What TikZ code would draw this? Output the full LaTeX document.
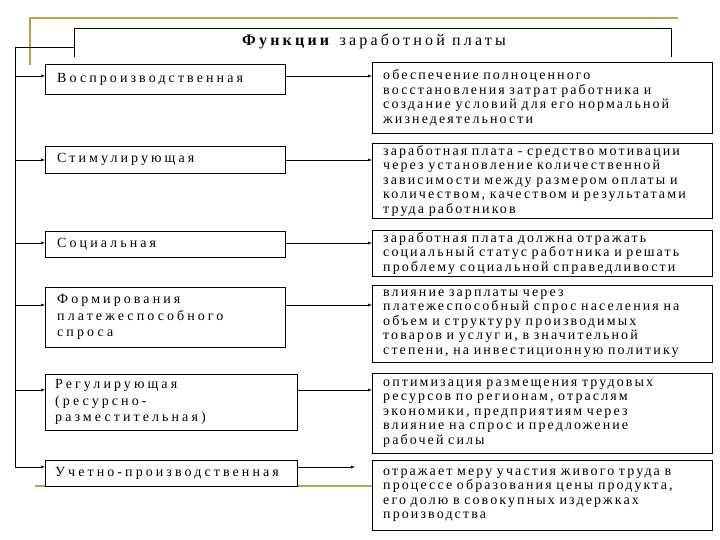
\documentclass[tikz,border=0pt]{standalone}
\usepackage{fontspec}
\setmainfont{Liberation Serif}
\newfontfamily\leftfont[LetterSpace=22]{Liberation Serif}
\newfontfamily\rightfont[LetterSpace=15]{Liberation Serif}
\newfontfamily\titlefont[LetterSpace=20]{Liberation Serif}
\usetikzlibrary{positioning}
\definecolor{slidegold}{RGB}{190,163,72}

\begin{document}
\begin{tikzpicture}[x=1pt,y=-1pt,
    kind/.style={
% The shape:
rectangle, anchor=north west,
% The size:
minimum width=240, text width=216, inner xsep=12, inner ysep=2,
% The border:
thin, draw, fill=white,
% The text:
align=left, font=\leftfont\fontsize{14}{16.5}\selectfont,
},
    role/.style={
% The shape:
rectangle, anchor=north west,
% The size:
minimum width=340, text width=318, inner xsep=11, inner ysep=2,
% The border:
thin, draw, fill=white,
% The text:
align=left, font=\rightfont\fontsize{14}{14.5}\selectfont,
},
    arr/.style={->, >=latex, thin},
    gold/.style={slidegold, line width=2.5pt},
]
  \useasboundingbox (0,0) rectangle (720,540);
  \fill[white] (0,0) rectangle (720,540);

  % slide decoration
  \draw[gold] (30,65) |- (678,18);
  \draw[gold] (35,486) -- (372,486);

  % title
  \draw (74,57) |- (671,28) -- (671,57);
  \node[font=\titlefont\fontsize{16}{18}\selectfont]
    (title) at (374,42) {\textbf{Функции} заработной платы};

  % functions
  \node[kind, minimum height=30]  (L1) at (45,64)  {Воспроизводственная};
  \node[kind, minimum height=27]  (L2) at (45,146) {Стимулирующая};
  \node[kind, minimum height=26]  (L3) at (45,231) {Социальная};
  \node[kind, minimum height=60]  (L4) at (45,287)
    {Формирования\\платежеспособного\\спроса};
  \node[kind, minimum height=56, text width=232, inner xsep=10]
    (L5) at (45,374) {Регулирующая\\(ресурсно-\\разместительная)};
  \node[kind, minimum height=26, text width=232, inner xsep=10]
    (L6) at (45,460) {Учетно-производственная};

  % descriptions
  \node[role, minimum height=71] (R1) at (372,62)
    {обеспечение полноценного\\восстановления затрат работника и\\создание условий для его нормальной\\жизнедеятельности};
  \node[role, minimum height=75] (R2) at (372,143)
    {заработная плата - средство мотивации\\через установление количественной\\зависимости между размером оплаты и\\количеством, качеством и результатами\\труда работников};
  \node[role, minimum height=45] (R3) at (372,230)
    {заработная плата должна отражать\\социальный статус работника и решать\\проблему социальной справедливости};
  \node[role, minimum height=77] (R4) at (372,285)
    {влияние зарплаты через\\платежеспособный спрос населения на\\объем и структуру производимых\\товаров и услуг и, в значительной\\степени, на инвестиционную политику};
  \node[role, minimum height=80] (R5) at (372,373)
    {оптимизация размещения трудовых\\ресурсов по регионам, отраслям\\экономики, предприятиям через\\влияние на спрос и предложение\\рабочей силы};
  \node[role, minimum height=70] (R6) at (372,460)
    {отражает меру участия живого труда в\\процессе образования цены продукта,\\его долю в совокупных издержках\\производства};

  % trunk
  \coordinate (top) at (15,47);
  \coordinate (t1) at (15,76);
  \coordinate (t2) at (15,160);
  \coordinate (t3) at (15,243);
  \coordinate (t4) at (15,305);
  \coordinate (t5) at (15,390);
  \coordinate (t6) at (15,467);
  \draw (top -| L1.west) ++(29,0) -- (top) -- (t6);

  \draw[arr] (t1) -- (t1 -| L1.west);
  \draw[arr] (t2) -- (t2 -| L2.west);
  \draw[arr] (t3) -- (t3 -| L3.west);
  \draw[arr] (t4) -- (t4 -| L4.west);
  \draw[arr] (t5) -- (t5 -| L5.west);
  \draw[arr] (t6) -- (t6 -| L6.west);

  \draw[arr] (t1 -| L1.east) -- (t1 -| R1.west);
  \draw[arr] (t2 -| L2.east) -- (t2 -| R2.west);
  \draw[arr] (t3 -| L3.east) -- (t3 -| R3.west);
  \draw[arr] (t4 -| L4.east) -- (t4 -| R4.west);
  \draw[arr] (t5 -| L5.east) -- (t5 -| R5.west);
  \draw[arr] (t6 -| L6.east) -- ([xshift=-17pt]t6 -| R6.west);

\end{tikzpicture}
\end{document}
